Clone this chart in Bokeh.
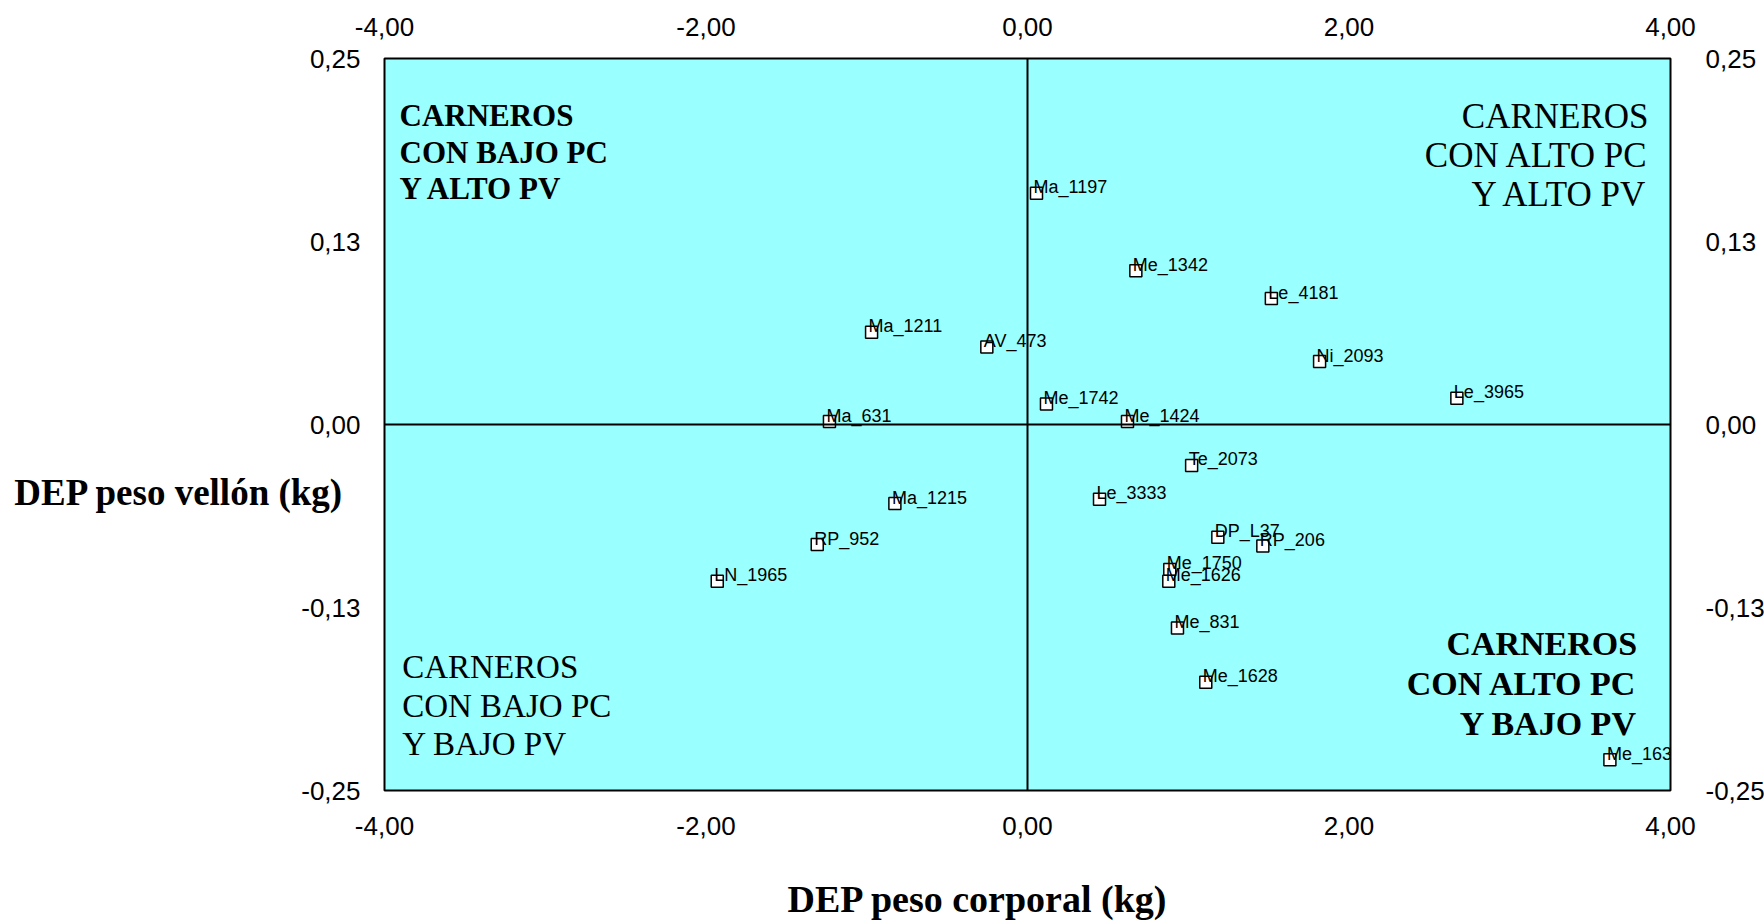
from bokeh.plotting import figure
from bokeh.models import ColumnDataSource, Span, Label, LinearAxis, FixedTicker, Range1d, Title
from bokeh.core.properties import value
from bokeh.embed import file_html
from bokeh.resources import INLINE

# ---------------- data ----------------
names = ["Ma_1197", "Me_1342", "Le_4181", "Ma_1211", "AV_473", "Ni_2093", "Le_3965",
         "Me_1742", "Ma_631", "Me_1424", "Te_2073", "Le_3333", "Ma_1215", "DP_L37",
         "RP_206", "RP_952", "Me_1750", "Me_1626", "LN_1965", "Me_831", "Me_1628", "Me_1636"]
dep_pc = [0.056, 0.674, 1.517, -0.970, -0.253, 1.817, 2.671,
          0.118, -1.232, 0.622, 1.021, 0.448, -0.825, 1.184,
          1.464, -1.308, 0.885, 0.879, -1.930, 0.933, 1.109, 3.623]
dep_pv = [0.158, 0.105, 0.086, 0.063, 0.053, 0.043, 0.018,
          0.014, 0.002, 0.002, -0.028, -0.051, -0.054, -0.077,
          -0.083, -0.082, -0.099, -0.107, -0.107, -0.139, -0.176, -0.229]

x_ticks = [-4, -2, 0, 2, 4]
x_tick_labels = ["-4,00", "-2,00", "0,00", "2,00", "4,00"]
y_ticks = [-0.25, -0.125, 0, 0.125, 0.25]
y_tick_labels = ["-0,25", "-0,13", "0,00", "0,13", "0,25"]

quad_tl = ["CARNEROS", "CON BAJO PC", "Y ALTO PV"]
quad_tr = ["CARNEROS", "CON ALTO PC", "Y ALTO PV"]
quad_bl = ["CARNEROS", "CON BAJO PC", "Y BAJO PV"]
quad_br = ["CARNEROS", "CON ALTO PC", "Y BAJO PV"]

x_title = "DEP peso corporal (kg)"
y_title = "DEP peso vellón (kg)"

# ---------------- layout ----------------
W, H = 1764, 922
FL, FT, FW, FH = 384, 58, 1286, 732
XMIN, XMAX, YMIN, YMAX = -4, 4, -0.25, 0.25

def dx(px):
    return XMIN + (px - FL) / FW * (XMAX - XMIN)

def dy(py):
    return YMAX - (py - FT) / FH * (YMAX - YMIN)

p = figure(frame_width=FW, frame_height=FH,
           min_border_left=FL, min_border_right=W - FL - FW,
           min_border_top=FT, min_border_bottom=H - FT - FH,
           x_range=Range1d(XMIN, XMAX), y_range=Range1d(YMIN, YMAX),
           output_backend="svg", toolbar_location=None, tools="",
           x_axis_location=None, y_axis_location=None)
p.background_fill_color = "#99FFFF"
p.border_fill_color = "white"
p.outline_line_color = "black"
p.outline_line_width = 2
p.xgrid.visible = False
p.ygrid.visible = False

sans = "Liberation Sans"
serif = "Liberation Serif"

def make_axis(kind, side, standoff):
    ax = LinearAxis()
    if kind == "x":
        ax.ticker = FixedTicker(ticks=x_ticks)
        ax.major_label_overrides = {t: l for t, l in zip(x_ticks, x_tick_labels)}
    else:
        ax.ticker = FixedTicker(ticks=y_ticks)
        ax.major_label_overrides = {t: l for t, l in zip(y_ticks, y_tick_labels)}
    ax.axis_line_color = None
    ax.major_tick_line_color = None
    ax.minor_tick_line_color = None
    ax.major_tick_out = 0
    ax.major_tick_in = 0
    ax.minor_tick_out = 0
    ax.minor_tick_in = 0
    ax.major_label_standoff = standoff
    ax.major_label_text_font = sans
    ax.major_label_text_font_size = "26px"
    ax.major_label_text_color = "black"
    p.add_layout(ax, side)
    return ax

make_axis("x", "below", 26)
make_axis("x", "above", 23)
yl = make_axis("y", "left", 24)
make_axis("y", "right", 35)

# y title: horizontal, shifted down by leading blank lines
nb = "\u00a0"
yl.axis_label = nb + "\n" + nb + "\n" + nb + "\n" + y_title
yl.axis_label_orientation = "horizontal"
yl.axis_label_text_font = serif
yl.axis_label_text_font_size = "37px"
yl.axis_label_text_font_style = "bold"
yl.axis_label_text_color = "black"
yl.axis_label_text_line_height = 1.1
yl.axis_label_standoff = -46

# x title
p.add_layout(Title(text=x_title, align="left", offset=787 - FL, standoff=76,
                   text_font=serif, text_font_size="38px", text_font_style="bold",
                   text_color="black"), "below")

p.add_layout(Span(location=0, dimension="width", line_color="black", line_width=2))
p.add_layout(Span(location=0, dimension="height", line_color="black", line_width=2))

src = ColumnDataSource(dict(x=dep_pc, y=dep_pv, name=names))
p.scatter("x", "y", source=src, marker="square", size=12,
          fill_color="white", line_color="black", line_width=1.5)
p.text("x", "y", text="name", source=src, x_offset=-3, y_offset=-6,
       text_baseline="middle", text_align="left",
       text_font=value(sans), text_font_size="18px", text_color="black")

def quad(lines, px, centers, align, bold, size):
    for t, c in zip(lines, centers):
        p.add_layout(Label(x=dx(px), y=dy(c), text=t, text_align=align,
                           text_baseline="middle", text_font=serif,
                           text_font_size=size, text_color="black",
                           text_font_style="bold" if bold else "normal"))

quad(quad_tl, 399, [114.8, 151.9, 187.9], "left", True, "31px")
quad(quad_tr, 1648, [115.5, 155, 194], "right", False, "35px")
quad(quad_bl, 401.7, [666.3, 705, 743.3], "left", False, "33px")
quad(quad_br, 1636.7, [643.3, 683.3, 723.3], "right", True, "34px")

open("out.html", "w").write(file_html(p, INLINE))
